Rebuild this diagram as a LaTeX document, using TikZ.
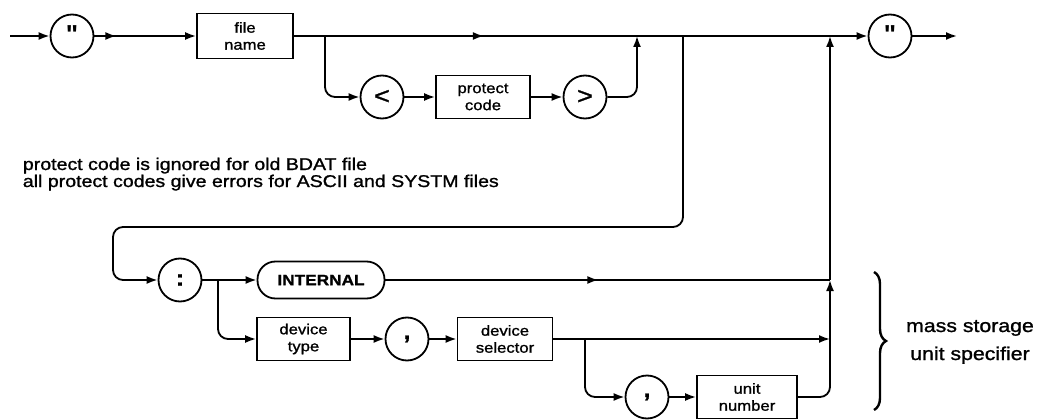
\documentclass[tikz,border=0pt]{standalone}
\usepackage{fontspec}
\setmainfont{Liberation Sans}[FakeStretch=1.15,FakeBold=1.2]
\newfontfamily\qfont{Liberation Sans}[Ligatures=TeXOff]
\usetikzlibrary{arrows.meta,decorations.markings,decorations.pathreplacing}
\begin{document}
\begin{tikzpicture}[x=1pt,y=-1pt,
  line width=1.8pt,
  >={Latex[length=11pt,width=8pt]},
  box/.style={draw,rectangle,align=center,inner sep=0pt,font=\fontsize{14.5}{17}\selectfont},
  term/.style={draw,circle,minimum size=43pt,inner sep=0pt,font=\fontsize{22}{22}\selectfont\bfseries},
  quoteterm/.style={term,font=\fontsize{26}{26}\qfont\bfseries},
  thinterm/.style={term,font=\fontsize{24}{24}\selectfont},
  pill/.style={draw,rounded corners=18pt,minimum width=127pt,minimum height=37pt,inner sep=0pt,font=\fontsize{15}{15}\selectfont\bfseries},
  note/.style={anchor=base west,inner sep=0pt,font=\fontsize{17}{17}\selectfont},
  side/.style={anchor=base,inner sep=0pt,font=\fontsize{18.5}{18.5}\selectfont},
  midarrow/.style={postaction={decorate,decoration={markings,mark=at position #1 with {\arrow{>}}}}},
  rcorner/.style={rounded corners=10pt}
]
\useasboundingbox (0,0) rectangle (1047,420);

% nodes
\coordinate (start) at (10,36);
\node[quoteterm] (q1) at (72,36) {\raisebox{3pt}{"}};
\node[box,minimum width=96pt,minimum height=45pt] (fn) at (245,36) {file\\name};
\node[thinterm] (lt) at (382,97) {<};
\node[box,minimum width=94pt,minimum height=43pt] (pc) at (483,97) {protect\\code};
\node[thinterm] (gt) at (585,97) {>};
\node[quoteterm] (q2) at (890,36) {\raisebox{3pt}{"}};
\coordinate (end) at (957,36);

\coordinate (b1) at (325,36);
\coordinate (j1) at (637,36);
\coordinate (d1) at (683,36);
\coordinate (m1) at (830,36);
\coordinate (l1) at (683,227);
\coordinate (l2) at (113,227);

\node[term] (col) at (180,280) {:};
\node[pill] (int) at (321,280) {INTERNAL};
\node[box,minimum width=93pt,minimum height=43pt] (dt) at (303.5,339) {device\\type};
\node[term] (cm1) at (407,339) {,};
\node[box,minimum width=95pt,minimum height=43pt] (ds) at (505,339) {device\\selector};
\node[term] (cm2) at (647,397) {,};
\node[box,minimum width=100pt,minimum height=43pt] (un) at (747,397) {unit\\number};

\coordinate (s1) at (218,280);
\coordinate (s2) at (585,339);
\coordinate (m2) at (830,280);
\coordinate (m3) at (830,339);

% connectors
\draw[->] (start) -- (q1);
\draw[->,midarrow=22pt] (q1) -- (fn);
\draw[->,midarrow=190pt] (fn) -- (q2);
\draw[->] (q2) -- (end);
\draw[->,rcorner] (b1) |- (lt);
\draw[->] (lt) -- (pc);
\draw[->] (pc) -- (gt);
\draw[->,rcorner] (gt) -| (j1);
\draw[->,rcorner] (d1) -- (l1) -- (l2) |- (col);
\draw[->] (col) -- (int);
\draw[->,rcorner] (s1) |- (dt);
\draw[midarrow=213pt] (int) -- (m2);
\draw[->] (dt) -- (cm1);
\draw[->] (cm1) -- (ds);
\draw[->] (ds) -- (m3);
\draw[->,rcorner] (s2) |- (cm2);
\draw[->] (cm2) -- (un);
\draw[->,rcorner] (un) -| (m2);
\draw[->] (m2) -- (m1);

% notes
\node[note] (n1) at (22,170) {protect code is ignored for old BDAT file};
\node[note] (n2) at (22,187) {all protect codes give errors for ASCII and SYSTM files};

\draw[line width=2.4pt,decorate,decoration={brace,amplitude=12pt}] (874,272) -- (874,410);
\node[side] (ms1) at (970,332) {mass storage};
\node[side] (ms2) at (970,360) {unit specifier};
\end{tikzpicture}
\end{document}
